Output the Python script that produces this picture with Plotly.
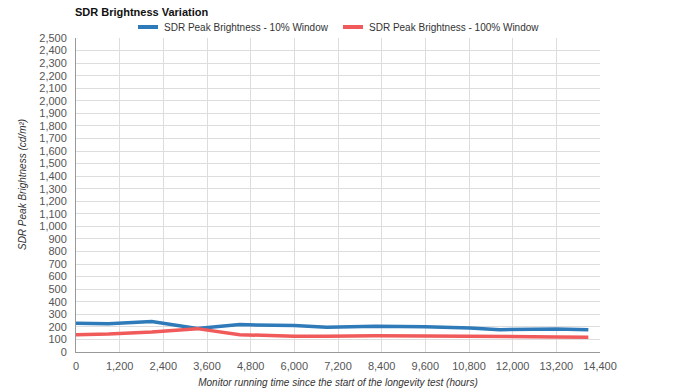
import plotly.graph_objects as go

hours = [0, 890, 2080, 3330, 4500, 6000, 6890, 8220, 9590, 10830, 11650, 13210, 14080]
peak_10 = [229, 224, 242, 188, 218, 210, 197, 205, 202, 192, 178, 184, 178]
peak_100 = [138, 144, 160, 186, 138, 125, 125, 130, 128, 123, 120, 120, 118]

series_names = ["SDR Peak Brightness - 10% Window", "SDR Peak Brightness - 100% Window"]
series_colors = ["#2f7ab8", "#f05a5a"]

x_ticks = list(range(0, 14401, 1200))
y_ticks = list(range(0, 2501, 100))

font = "Liberation Sans, Arial, sans-serif"

fig = go.Figure()
for name, vals, col in zip(series_names, [peak_10, peak_100], series_colors):
    fig.add_trace(go.Scatter(x=hours, y=vals, mode="lines", name=name,
                             line=dict(color=col, width=3.5), showlegend=False))

# manual legend (shorter symbols as in the reference)
legend_pos = [(0.1183, 0.1565, 0.1641), (0.5095, 0.5477, 0.5553)]
for (x0, x1, xt), name, col in zip(legend_pos, series_names, series_colors):
    fig.add_shape(type="line", xref="paper", yref="paper", x0=x0, x1=x1, y0=1.035, y1=1.035,
                  line=dict(color=col, width=4))
    fig.add_annotation(xref="paper", yref="paper", x=xt, y=1.035, text=name, showarrow=False,
                       xanchor="left", yanchor="middle",
                       font=dict(family=font, size=10, color="#333333"))

# y-axis title
fig.add_annotation(xref="paper", yref="paper", x=-0.101, y=0.532, text="<i>SDR Peak Brightness (cd/m²)</i>",
                   textangle=-90, showarrow=False, xanchor="center", yanchor="middle",
                   font=dict(family=font, size=10, color="#333333"))

fig.update_layout(
    width=675, height=390,
    margin=dict(l=76, r=75, t=38, b=38, autoexpand=False),
    paper_bgcolor="white", plot_bgcolor="white",
    font=dict(family=font, size=11, color="#555555"),
    title=dict(text="<b>SDR Brightness Variation</b>", x=0.111, xanchor="left", y=0.969, yanchor="middle",
               font=dict(family=font, size=11, color="#111111")),
    showlegend=False,
)
fig.update_xaxes(range=[0, 14400], tickvals=x_ticks, tickformat=",d", showgrid=True, automargin=False,
                 gridcolor="#dddddd", gridwidth=1, showline=True, linecolor="#999999", linewidth=1,
                 zeroline=False, ticks="", ticklabelstandoff=4, tickfont=dict(size=11, color="#555555"),
                 title=dict(text="<i>Monitor running time since the start of the longevity test (hours)</i>",
                            font=dict(size=10, color="#333333"), standoff=7))
fig.update_yaxes(range=[0, 2500], tickvals=y_ticks, tickformat=",d", showgrid=True, automargin=False,
                 gridcolor="#dddddd", gridwidth=1, showline=True, linecolor="#999999", linewidth=1,
                 zeroline=False, ticks="", ticklabelstandoff=6, tickfont=dict(size=11, color="#555555"))

fig.write_html("out.html", config={"displayModeBar": False},
               post_script="document.body.style.margin='0';document.body.style.padding='0';")
